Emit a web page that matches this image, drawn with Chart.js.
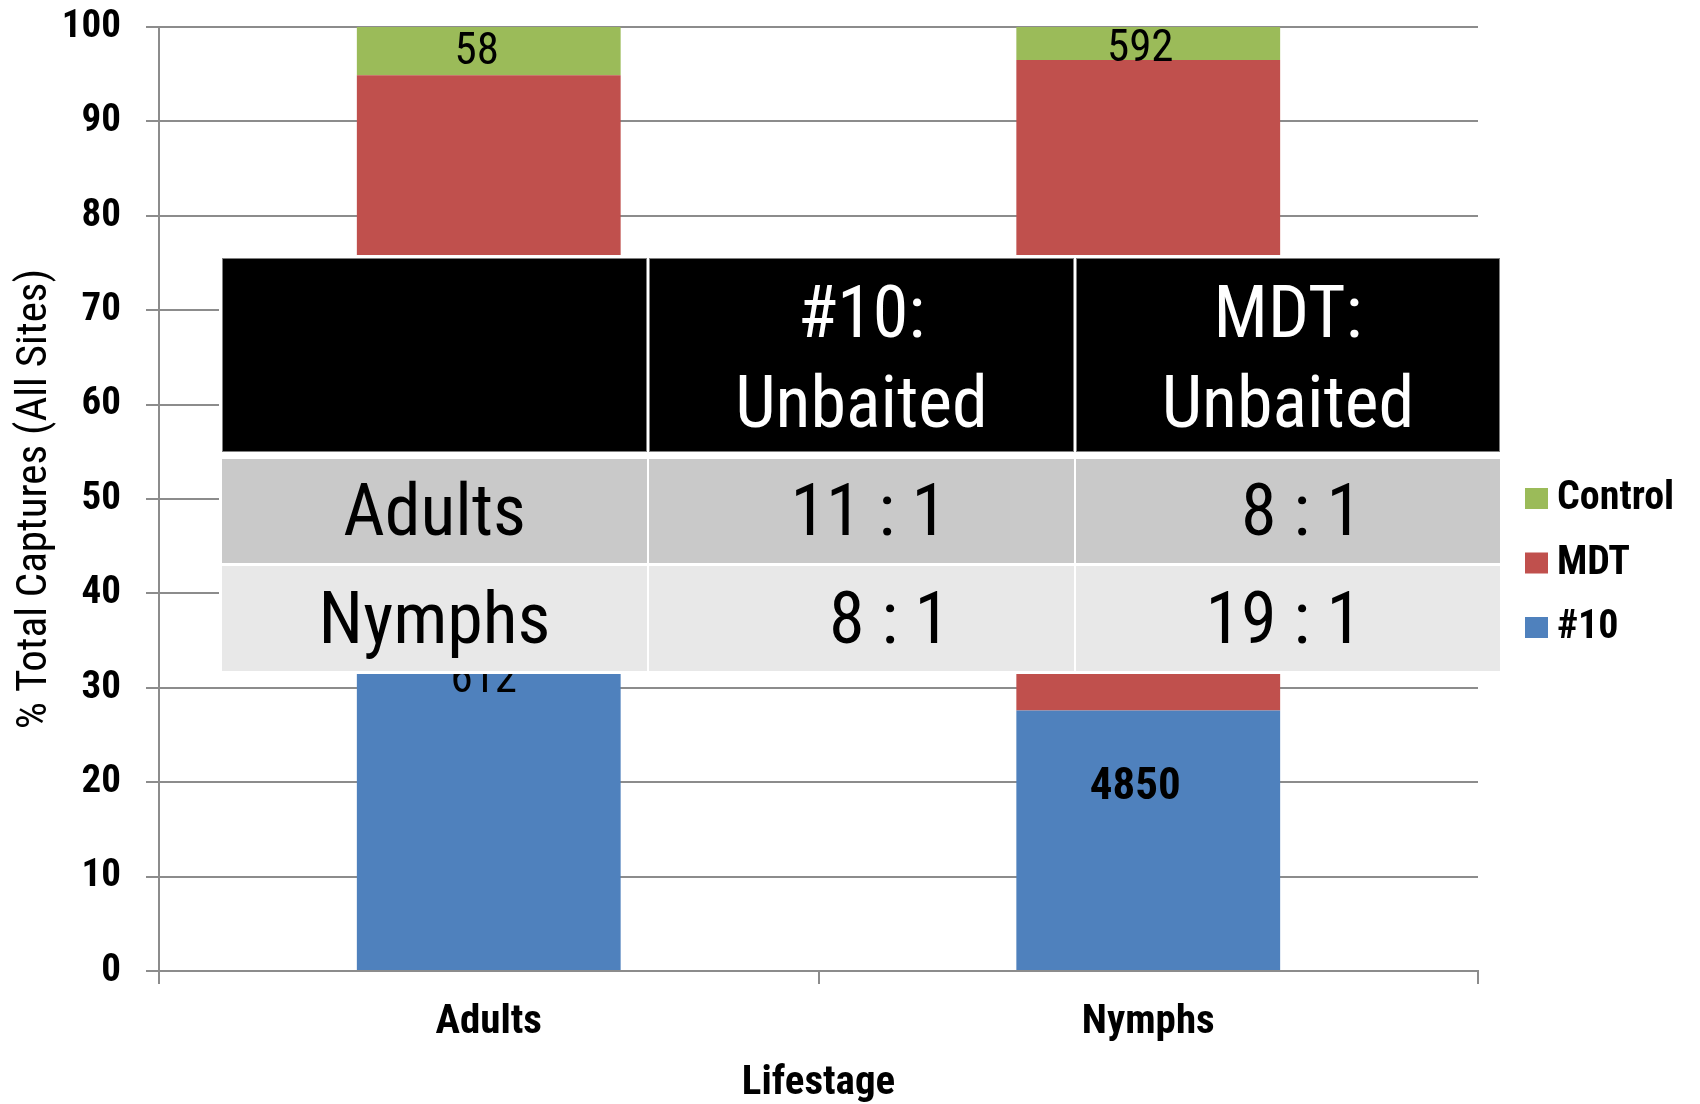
<!DOCTYPE html>
<html>
<head>
<meta charset="utf-8">
<script src="https://cdn.jsdelivr.net/npm/chart.js@4.4.1/dist/chart.umd.min.js"></script>
<style>
  body { margin: 0; background: #fff; }
  #wrap { position: relative; width: 1700px; height: 1104px; }
  #ratios { position: absolute; left: 219px; top: 255px; width: 1283px; height: 419px; background: #fff; }
  #ratios div { position: absolute; box-sizing: border-box; font-family: 'Roboto Condensed', 'DejaVu Sans Condensed', sans-serif; }
  .hd { background: #000; border: 1px solid #7f7f7f; color: #fff; font-size: 72px; line-height: 90px; text-align: center; padding-top: 9px; }
  .r1 { background: #c9c9c9; color: #000; font-size: 72px; line-height: 104px; }
  .r2 { background: #e8e8e8; color: #000; font-size: 72px; line-height: 105px; }
</style>
</head>
<body>
<div id="wrap">
  <canvas id="myChart" width="1700" height="1104"></canvas>
  <!-- ratio table laid over the chart, as in the slide -->
  <div id="ratios">
    <div class="hd" style="left:3px;top:3px;width:425px;height:194px;"></div>
    <div class="hd" style="left:430px;top:3px;width:425px;height:194px;">#10:<br>Unbaited</div>
    <div class="hd" style="left:857px;top:3px;width:424px;height:194px;">MDT:<br>Unbaited</div>
    <div class="r1" style="left:3px;top:204px;width:425px;height:104px;text-align:center;">Adults</div>
    <div class="r1" style="left:430px;top:204px;width:425px;height:104px;text-align:right;padding-right:127px;">11 : 1</div>
    <div class="r1" style="left:857px;top:204px;width:424px;height:104px;text-align:right;padding-right:138px;">8 : 1</div>
    <div class="r2" style="left:3px;top:311px;width:425px;height:105px;text-align:center;">Nymphs</div>
    <div class="r2" style="left:430px;top:311px;width:425px;height:105px;text-align:right;padding-right:124px;">8 : 1</div>
    <div class="r2" style="left:857px;top:311px;width:424px;height:105px;text-align:right;padding-right:138px;">19 : 1</div>
  </div>
</div>
<script>
// ============  data ============ //
const categories = ['Adults', 'Nymphs'];
const seriesNames = ['#10', 'MDT', 'Control'];

// % of total captures
const pct10 = [53.8, 27.6];
const pctMDT = [41.1, 68.9];
const pctControl = [5.1, 3.5];

// raw capture counts shown as bar labels (MDT labels sit behind the table)
const count10 = [612, 4850];
const countMDT = [null, null];
const countControl = [58, 592];

const yTicks = [0, 10, 20, 30, 40, 50, 60, 70, 80, 90, 100];

const FONT = "'Roboto Condensed', 'DejaVu Sans Condensed', sans-serif";
const GRID = '#8c8c8c';

// label nudges in px, to sit where the original labels were put by hand
const labelNudge = {
    '0-0': [-5, -36], '0-1': [-13, -52],
    '2-0': [-12, 2], '2-1': [-8, 6]
};

const barLabels = {
    id: 'barLabels',
    afterDatasetsDraw(chart) {
        const ctx = chart.ctx;
        ctx.save();
        ctx.fillStyle = '#000';
        ctx.textAlign = 'center';
        ctx.textBaseline = 'middle';
        chart.data.datasets.forEach((ds, di) => {
            const meta = chart.getDatasetMeta(di);
            meta.data.forEach((bar, i) => {
                const v = ds.counts[i];
                if (v == null) return;
                const n = labelNudge[di + '-' + i] || [0, 0];
                ctx.font = (di === 0 && i === 1 ? 'bold ' : '') + '45px ' + FONT;
                ctx.fillText(String(v), bar.x + n[0], (bar.y + bar.base) / 2 + n[1]);
            });
        });
        ctx.restore();
    }
};

// legend on the right, top-down Control / MDT / #10
const sideLegend = {
    id: 'sideLegend',
    afterDraw(chart) {
        const ctx = chart.ctx;
        ctx.save();
        ctx.font = 'bold 40px ' + FONT;
        ctx.textBaseline = 'middle';
        ctx.textAlign = 'left';
        const ds = chart.data.datasets.slice().reverse();
        ds.forEach((d, k) => {
            const cy = 498 + k * 64.5;
            ctx.fillStyle = d.backgroundColor;
            ctx.fillRect(1525, cy - 10, 23, 21);
            ctx.fillStyle = '#000';
            ctx.fillText(d.label, 1557, cy + 1);
        });
        ctx.restore();
    }
};

const ctx = document.getElementById('myChart').getContext('2d');

let capturesChart = new Chart(ctx, {
    type: 'bar',
    data: {
        labels: categories,
        datasets: [
            { label: seriesNames[0], data: pct10, counts: count10, backgroundColor: '#4f81bd' },
            { label: seriesNames[1], data: pctMDT, counts: countMDT, backgroundColor: '#c0504d' },
            { label: seriesNames[2], data: pctControl, counts: countControl, backgroundColor: '#9bbb59' }
        ]
    },
    options: {
        responsive: false,
        animation: false,
        datasets: { bar: { categoryPercentage: 1, barPercentage: 0.4, borderWidth: 0 } },
        layout: { autoPadding: false, padding: { top: 27, right: 222, left: 0, bottom: 0 } },
        plugins: { legend: { display: false }, tooltip: { enabled: false } },
        scales: {
            x: {
                stacked: true,
                grid: { drawOnChartArea: false, tickLength: 13, color: GRID, lineWidth: 2 },
                border: { color: GRID, width: 2 },
                ticks: { color: '#000', font: { family: FONT, size: 41, weight: 'bold' }, padding: 14 },
                title: { display: true, text: 'Lifestage', color: '#000',
                         font: { family: FONT, size: 41, weight: 'bold', lineHeight: 1 }, padding: { top: 0, bottom: 0 } },
                afterFit: s => { s.height = 133; s.paddingLeft = 0; s.paddingRight = 0; }
            },
            y: {
                stacked: true,
                min: 0,
                max: 100,
                afterBuildTicks: s => { s.ticks = yTicks.map(v => ({ value: v })); },
                grid: { tickLength: 13, color: GRID, lineWidth: 2 },
                border: { color: GRID, width: 2 },
                ticks: { color: '#000', font: { family: FONT, size: 39, weight: 'bold' }, padding: 25 },
                title: { display: true, text: '% Total Captures (All Sites)', color: '#000',
                         font: { family: FONT, size: 43, lineHeight: 1 }, padding: { top: 14, bottom: 0 } },
                afterFit: s => { s.width = 159; s.paddingTop = 0; s.paddingBottom = 0; }
            }
        }
    },
    plugins: [barLabels, sideLegend]
});
</script>
</body>
</html>
